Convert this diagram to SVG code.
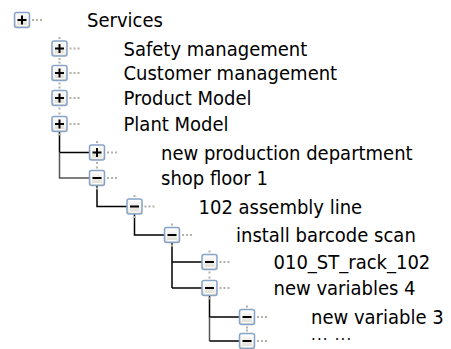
<svg xmlns="http://www.w3.org/2000/svg" xmlns:xlink="http://www.w3.org/1999/xlink" width="451" height="349" viewBox="0 0 451 349">
  <style>
    .label { font-family: "DejaVu Sans Condensed", "DejaVu Sans", Verdana, sans-serif; font-stretch: condensed; font-size: 20px; fill: #000; }
    .more { font-size: 16.5px; letter-spacing: 1.2px; }
    .dot { fill: #b3b1a8; }
    .link { stroke: #000; stroke-width: 1.5; fill: none; }
    .link-soft { stroke: #555; stroke-width: 1.5; fill: none; }
  </style>
  <defs>
    <linearGradient id="boxFill" x1="0" y1="0" x2="0" y2="1">
      <stop offset="0" stop-color="#ffffff"/>
      <stop offset="1" stop-color="#dcd9cf"/>
    </linearGradient>
    <!-- expander box, centred on 0,0 -->
    <g id="box">
      <rect x="-7.5" y="-7.5" width="15" height="15" rx="2" fill="url(#boxFill)" stroke="#86a3c8" stroke-width="1.5"/>
      <rect x="-5.5" y="-5.5" width="11" height="11" rx="1" fill="none" stroke="#ffffff" stroke-width="1"/>
    </g>
    <g id="plus">
      <use xlink:href="#box"/>
      <path d="M-4.5,0 H4.5 M0,-4.5 V4.5" stroke="#000" stroke-width="2"/>
    </g>
    <g id="minus">
      <use xlink:href="#box"/>
      <path d="M-4.5,0 H4.5" stroke="#000" stroke-width="2"/>
    </g>
    <!-- dotted stubs around a box -->
    <g id="stubs">
      <rect class="dot" x="10" y="-1" width="2" height="2"/>
      <rect class="dot" x="14" y="-1" width="2" height="2"/>
      <rect class="dot" x="18" y="-1" width="2" height="2"/>
      <rect class="dot" x="-1" y="-11.5" width="2" height="2"/>
      <rect class="dot" x="-1" y="9.5" width="2" height="2"/>
    </g>
    <g id="stubsRoot">
      <rect class="dot" x="10" y="-1" width="2" height="2"/>
      <rect class="dot" x="14" y="-1" width="2" height="2"/>
      <rect class="dot" x="18" y="-1" width="2" height="2"/>
    </g>
  </defs>

  <!-- tree lines -->
  <g id="connectors">
    <path class="link" d="M59.5,131.5 V152.5 M59.5,152.5 H89.5"/>
    <path class="link-soft" d="M59.5,152.5 V178 H89.5"/>
    <path class="link" d="M97,185.5 V206.5 H127"/>
    <path class="link" d="M134.5,214 V235 H164.5"/>
    <path class="link" d="M172,242.5 V288 M172,262 H202 M172,288 H202"/>
    <path class="link" d="M209.5,295.5 V317 H239.5"/>
    <path class="link-soft" d="M209.5,317 V341"/>
    <path class="link" d="M209.5,341 H239.5"/>
  </g>

  <g id="node-services" transform="translate(22,20)">
    <use xlink:href="#stubsRoot"/><use xlink:href="#plus"/>
    <text class="label" x="65" y="7">Services</text>
  </g>
  <g id="node-safety" transform="translate(59.5,48.5)">
    <use xlink:href="#stubs"/><use xlink:href="#plus"/>
    <text class="label" x="64" y="7">Safety management</text>
  </g>
  <g id="node-customer" transform="translate(59.5,73)">
    <use xlink:href="#stubs"/><use xlink:href="#plus"/>
    <text class="label" x="64" y="7">Customer management</text>
  </g>
  <g id="node-product" transform="translate(59.5,98)">
    <use xlink:href="#stubs"/><use xlink:href="#plus"/>
    <text class="label" x="64" y="7">Product Model</text>
  </g>
  <g id="node-plant" transform="translate(59.5,124)">
    <use xlink:href="#stubs"/><use xlink:href="#plus"/>
    <text class="label" x="64" y="7">Plant Model</text>
  </g>
  <g id="node-production" transform="translate(97,152.5)">
    <use xlink:href="#stubs"/><use xlink:href="#plus"/>
    <text class="label" x="64" y="7">new production department</text>
  </g>
  <g id="node-shopfloor" transform="translate(97,178)">
    <use xlink:href="#stubs"/><use xlink:href="#minus"/>
    <text class="label" x="64" y="7">shop floor 1</text>
  </g>
  <g id="node-assembly" transform="translate(134.5,206.5)">
    <use xlink:href="#stubs"/><use xlink:href="#minus"/>
    <text class="label" x="64" y="7">102 assembly line</text>
  </g>
  <g id="node-barcode" transform="translate(172,235)">
    <use xlink:href="#stubs"/><use xlink:href="#minus"/>
    <text class="label" x="64" y="7">install barcode scan</text>
  </g>
  <g id="node-rack" transform="translate(209.5,262)">
    <use xlink:href="#stubs"/><use xlink:href="#minus"/>
    <text class="label" x="64" y="7">010_ST_rack_102</text>
  </g>
  <g id="node-variables" transform="translate(209.5,288)">
    <use xlink:href="#stubs"/><use xlink:href="#minus"/>
    <text class="label" x="64" y="7">new variables 4</text>
  </g>
  <g id="node-variable3" transform="translate(247,317)">
    <use xlink:href="#stubs"/><use xlink:href="#minus"/>
    <text class="label" x="64" y="6.5">new variable 3</text>
  </g>
  <g id="node-more" transform="translate(247,341)">
    <use xlink:href="#stubs"/><use xlink:href="#minus"/>
    <text class="label more" x="64" y="3.6">··· ···</text>
  </g>
</svg>
